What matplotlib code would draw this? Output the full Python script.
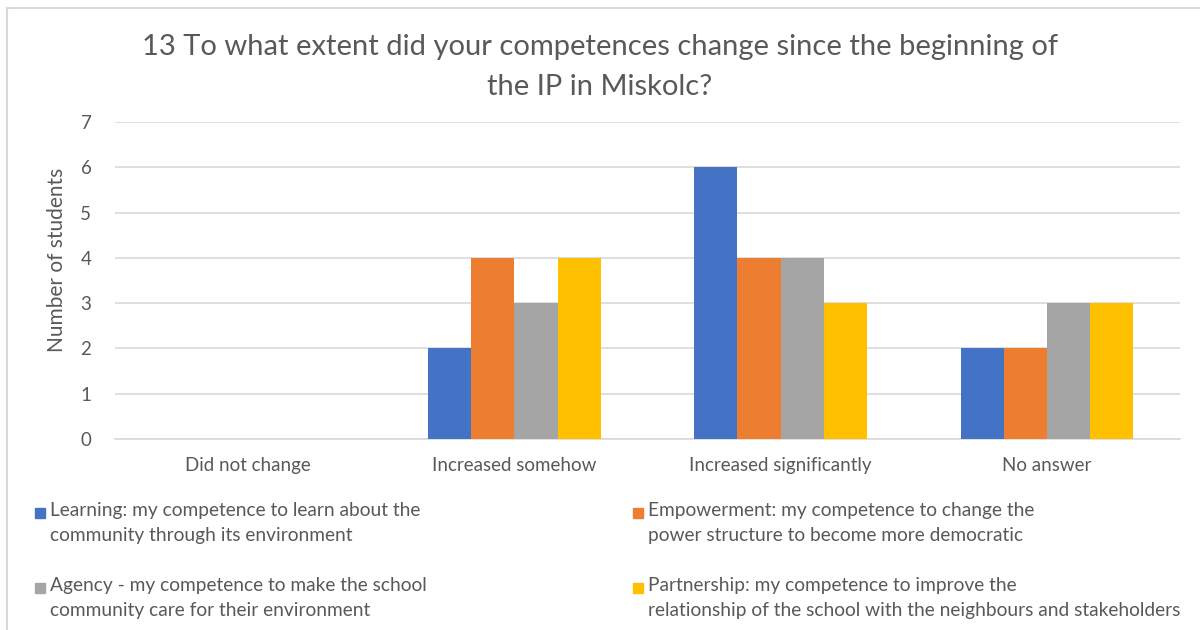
import matplotlib.pyplot as plt
import numpy as np
from matplotlib.patches import Rectangle

plt.rcParams['font.family'] = ['Lato', 'DejaVu Sans']

categories = ['Did not change', 'Increased somehow', 'Increased significantly', 'No answer']
series_names = [
    'Learning: my competence to learn about the\ncommunity through its environment',
    'Empowerment: my competence to change the\npower structure to become more democratic',
    'Agency - my competence to make the school\ncommunity care for their environment',
    'Partnership: my competence to improve the\nrelationship of the school with the neighbours and stakeholders',
]
learning = [0, 2, 6, 2]
empowerment = [0, 4, 4, 2]
agency = [0, 3, 4, 3]
partnership = [0, 4, 3, 3]
colors = ['#4472C4', '#ED7D31', '#A5A5A5', '#FFC000']

text_col = '#595959'
grid_col = '#D9D9D9'

fig = plt.figure(figsize=(12, 6.3), dpi=100)
fig.patches.append(Rectangle((7 / 1200, -0.02), 1.05, 1 - 8 / 630 + 0.02,
                             transform=fig.transFigure, fill=False,
                             edgecolor='#D9D9D9', lw=1.5))

ax = fig.add_axes([115 / 1200, 1 - 439 / 630, 1065 / 1200, 317 / 630])

x = np.arange(len(categories))
w = 0.162
all_vals = [learning, empowerment, agency, partnership]
for i, vals in enumerate(all_vals):
    ax.bar(x + (i - 1.5) * w, vals, w, color=colors[i], zorder=3)

ax.set_xlim(-0.5, len(categories) - 0.5)
ax.set_ylim(0, 7)
ax.set_yticks(range(0, 8))
ax.yaxis.grid(True, color=grid_col, lw=1.2, zorder=0)
ax.set_axisbelow(True)
for s in ['top', 'right', 'left']:
    ax.spines[s].set_visible(False)
ax.spines['bottom'].set_color(grid_col)
ax.spines['bottom'].set_linewidth(1.2)
ax.tick_params(axis='both', length=0, colors=text_col, labelsize=13.5)
ax.tick_params(axis='y', pad=17)
ax.tick_params(axis='x', pad=13)
ax.set_xticks(x)
ax.set_xticklabels(categories)

ax.set_ylabel('Number of students', color=text_col, fontsize=15)
ax.yaxis.set_label_coords(-0.045, 0.565)

fig.text(0.5, 1 - 67 / 630, '13 To what extent did your competences change since the beginning of\nthe IP in Miskolc?',
         ha='center', va='center', fontsize=21, color=text_col, linespacing=1.65)

# legend drawn by hand: squares aligned with the first text line
leg_pos = [(35, 513), (633, 513), (35, 588), (633, 588)]
for name, col, (lx, ly) in zip(series_names, colors, leg_pos):
    fig.patches.append(Rectangle((lx / 1200, 1 - (ly + 5) / 630), 10 / 1200, 10 / 630,
                                 transform=fig.transFigure, color=col))
    fig.text((lx + 15) / 1200, 1 - (ly - 11) / 630, name, ha='left', va='top',
             fontsize=13.8, color=text_col, linespacing=1.55)

fig.savefig('out.png', dpi=100)
